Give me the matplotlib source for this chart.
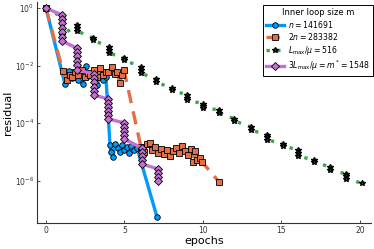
import matplotlib
matplotlib.use("Agg")
import matplotlib.pyplot as plt
import numpy as np

# ---- data (x in epochs, residual as log10) ----
blue_x = [0.0, 1.21, 1.46, 1.66, 1.85, 2.04, 2.36, 2.55, 2.68, 2.87, 3.06, 3.25, 3.44, 3.63, 3.82,
          3.95, 4.08, 4.14, 4.27, 4.39, 4.59, 4.71, 4.84, 4.97, 5.16, 5.29, 5.41, 5.61, 5.80, 7.07]
blue_log10 = [0.0, -2.64, -2.19, -2.43, -2.29, -2.50, -2.64, -2.01, -2.36, -2.26, -2.43, -2.67, -2.33, -2.50, -2.40,
              -3.61, -4.76, -5.00, -5.17, -4.72, -4.86, -5.00, -4.76, -4.93, -4.83, -5.03, -4.79, -4.93, -4.86, -7.26]

orange_x = [0.0, 1.08, 1.34, 1.53, 1.66, 1.85, 2.04, 2.29, 2.48, 2.68, 2.80, 3.06, 3.25, 3.44, 3.63, 3.82,
            3.95, 4.20, 4.39, 4.52, 4.71, 4.84, 4.97,
            6.05, 6.24, 6.43, 6.62, 6.75, 6.94, 7.13, 7.32, 7.52, 7.71, 7.90, 8.09, 8.28, 8.47, 8.66,
            8.85, 9.04, 9.24, 9.36, 9.49, 9.62, 9.81, 9.94, 11.02]
orange_log10 = [0.0, -2.19, -2.50, -2.33, -2.40, -2.22, -2.33, -2.15, -2.40, -2.26, -2.33, -2.15, -2.40, -2.08, -2.33, -2.22,
                -2.22, -2.05, -2.29, -2.22, -2.60, -2.33, -2.15,
                -4.83, -5.00, -4.72, -4.69, -4.93, -4.83, -5.03, -4.90, -5.07, -4.93, -5.14, -4.97, -4.86, -5.03, -4.79,
                -4.97, -5.10, -4.90, -5.35, -4.97, -5.28, -5.21, -5.35, -6.04]

green_x = [0.0,
           1.0, 1.0, 1.0, 1.0,
           2.0, 2.0, 2.0,
           3.0, 3.0,
           4.0, 4.0, 4.0,
           5.0, 5.0,
           6.05, 6.05, 6.05,
           7.0, 7.0,
           8.0, 8.0,
           9.0, 9.0, 9.0,
           10.0, 10.0, 10.0,
           11.05, 11.05,
           12.0, 12.0,
           13.05, 13.05,
           14.1, 14.1, 14.1,
           15.1, 15.1,
           16.05, 16.05, 16.05,
           17.05, 17.05,
           18.1, 18.1,
           19.1, 19.1, 19.1,
           20.1]
green_log10 = [0.0,
               -0.31, -0.52, -0.73, -0.94,
               -0.59, -0.69, -0.80,
               -1.04, -1.11,
               -1.35, -1.46, -1.56,
               -1.74, -1.81,
               -2.05, -2.15, -2.26,
               -2.47, -2.57,
               -2.78, -2.85,
               -3.02, -3.13, -3.19,
               -3.33, -3.40, -3.47,
               -3.54, -3.65,
               -3.85, -3.92,
               -4.13, -4.24,
               -4.41, -4.48, -4.58,
               -4.72, -4.79,
               -4.93, -5.03, -5.14,
               -5.28, -5.35,
               -5.52, -5.63,
               -5.76, -5.83, -5.94,
               -6.08]

purple_x = [0.0,
            1.02, 1.02, 1.02, 1.02, 1.02, 1.02, 1.02,
            1.97, 1.97, 1.97, 1.97, 1.97, 1.97,
            3.06, 3.06, 3.06, 3.06, 3.06, 3.06,
            3.95, 3.95, 3.95, 3.95, 3.95, 3.95,
            4.97, 4.97, 4.97, 4.97, 4.97,
            6.11, 6.11, 6.11, 6.11, 6.11,
            7.13, 7.13, 7.13, 7.13]
purple_log10 = [0.0,
                -0.24, -0.38, -0.52, -0.69, -0.83, -1.01, -1.15,
                -1.39, -1.53, -1.67, -1.84, -1.98, -2.15,
                -2.29, -2.43, -2.57, -2.74, -2.88, -3.02,
                -3.16, -3.30, -3.44, -3.58, -3.72, -3.85,
                -3.99, -4.13, -4.27, -4.41, -4.55,
                -4.86, -5.00, -5.14, -5.28, -5.42,
                -5.59, -5.73, -5.87, -6.01]

labels = [r"$n = 141691$", r"$2n = 283382$", r"$L_{\max}/\mu = 516$", r"$3L_{\max}/\mu = m^* = 1548$"]
legend_title = "Inner loop size m"
xticks = [0, 5, 10, 15, 20]
yticks = [1e0, 1e-2, 1e-4, 1e-6]

# ---- plot ----
plt.rcParams['font.family'] = ['DejaVu Sans']
plt.rcParams['mathtext.fontset'] = 'dejavusans'

fig = plt.figure(figsize=(3.74, 2.49), dpi=100)
ax = fig.add_axes([37/374, 26/249, (371-37)/374, (223-2)/249])

c_blue = "#009AFA"
c_orange = "#E36F47"
c_green = "#3EA44E"
c_purple = "#C371D2"

def res(v):
    return [10.0 ** e for e in v]

ax.plot(blue_x, res(blue_log10), color=c_blue, lw=2.4, ls='-', marker='o', ms=4.0,
        mfc=c_blue, mec='black', mew=0.6, label=labels[0])
ax.plot(orange_x, res(orange_log10), color=c_orange, lw=2.4, ls=(0, (4, 2.5)), marker='s', ms=4.0,
        mfc=c_orange, mec='black', mew=0.6, label=labels[1])
ax.plot(green_x, res(green_log10), color=c_green, lw=2.4, ls=(0, (1, 2.2)), marker='*', ms=4.3,
        mfc='#1f5a28', mec='black', mew=1.0, label=labels[2])
ax.plot(purple_x, res(purple_log10), color=c_purple, lw=2.4, ls='-', marker='D', ms=3.6,
        mfc=c_purple, mec='black', mew=0.6, label=labels[3])

ax.set_yscale('log')
ax.set_xlim(-0.57, 20.7)
ax.set_ylim(10 ** -7.47, 10 ** 0.21)
ax.set_xticks(xticks)
ax.set_yticks(yticks)
ax.yaxis.set_minor_locator(matplotlib.ticker.NullLocator())
ax.tick_params(axis='both', which='major', direction='in', length=2.5, width=0.6,
               labelsize=5.5, colors='#333333', labelcolor='#333333', pad=2)
for s in ['top', 'right']:
    ax.spines[s].set_visible(False)
for s in ['left', 'bottom']:
    ax.spines[s].set_linewidth(0.8)
    ax.spines[s].set_color('#333333')

ax.set_xlabel("epochs", fontsize=8, labelpad=1)
ax.set_ylabel("residual", fontsize=8, labelpad=1)

leg = ax.legend(loc='upper right', bbox_to_anchor=(373/374, 1 - 5/249), bbox_transform=fig.transFigure,
                borderaxespad=0, fontsize=5.6, title=legend_title, title_fontsize=6,
                frameon=True, fancybox=False, handlelength=2.3, handletextpad=0.5,
                labelspacing=0.2, borderpad=0.4, framealpha=1)
leg.get_frame().set_edgecolor('black')
leg.get_frame().set_linewidth(0.7)

fig.savefig("out.png", dpi=100)
